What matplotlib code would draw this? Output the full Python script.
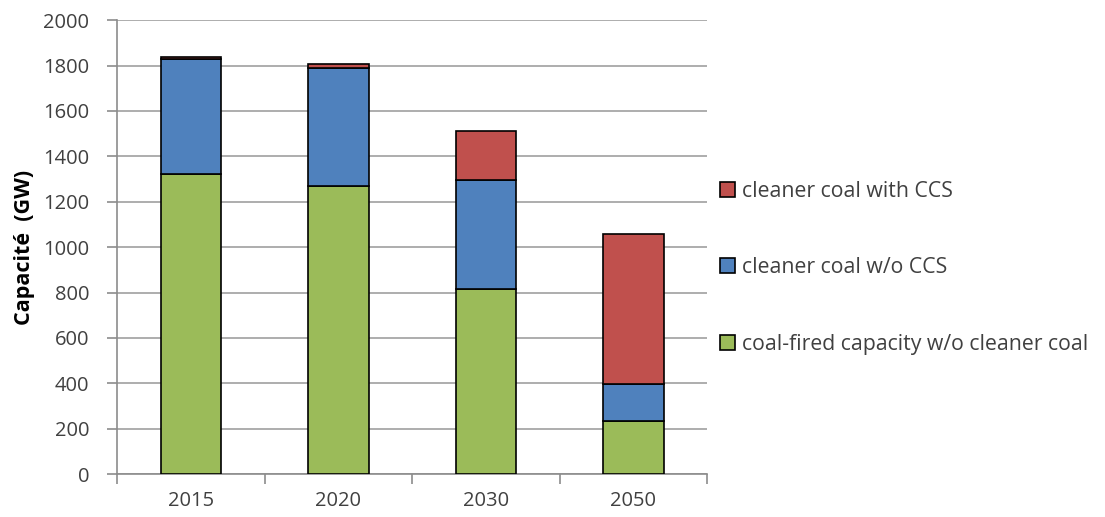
import matplotlib.pyplot as plt
import numpy as np

plt.rcParams['font.family'] = ['Open Sans', 'DejaVu Sans']

years = ['2015', '2020', '2030', '2050']
coal_wo_cleaner = [1320, 1270, 815, 233]
cleaner_wo_ccs = [508, 520, 480, 163]
cleaner_with_ccs = [8, 15, 215, 660]

labels = ['coal-fired capacity w/o cleaner coal', 'cleaner coal w/o CCS', 'cleaner coal with CCS']
colors = ['#9bbb59', '#4f81bd', '#c0504d']

fig = plt.figure(figsize=(11.05, 5.17), dpi=100)
ax = fig.add_axes([0.106, 0.083, 0.534, 0.878])

x = np.arange(len(years))
bottom = np.zeros(len(years))
handles = []
for vals, col, lab in zip([coal_wo_cleaner, cleaner_wo_ccs, cleaner_with_ccs], colors, labels):
    b = ax.bar(x, vals, width=0.41, bottom=bottom, color=col, edgecolor='black',
               linewidth=1.2, label=lab, zorder=3)
    handles.append(b)
    bottom += np.array(vals)

ax.set_xlim(-0.5, len(years) - 0.5)
ax.set_ylim(0, 2000)
ax.set_yticks(range(0, 2001, 200))
ax.yaxis.grid(True, color='#a0a0a0', linewidth=1.2, zorder=0)
ax.tick_params(axis='y', length=7, width=1.2, color='#8c8c8c', labelsize=14.5, labelcolor='#404040', pad=13)

# x ticks between categories, labels at centers
ax.set_xticks(np.arange(-0.5, len(years), 1.0))
ax.set_xticklabels([])
ax.tick_params(axis='x', which='major', length=7, width=1.2, color='#8c8c8c')
ax.set_xticks(x, minor=True)
ax.set_xticklabels(years, minor=True)
ax.tick_params(axis='x', which='minor', length=0, labelsize=14.5, labelcolor='#404040', pad=12)

for side in ['top', 'right']:
    ax.spines[side].set_visible(False)
for side in ['left', 'bottom']:
    ax.spines[side].set_color('#8c8c8c')
    ax.spines[side].set_linewidth(1.2)

ax.set_ylabel('Capacité  (GW)', fontsize=15.5, fontweight='bold', labelpad=6)

fig.legend(handles[::-1], labels[::-1], loc='center left', bbox_to_anchor=(0.634, 0.482),
           frameon=False, fontsize=15.3, labelspacing=2.6, handlelength=0.7, handleheight=0.7,
           handletextpad=0.35, labelcolor='#404040')

fig.savefig('out.png', dpi=100)
